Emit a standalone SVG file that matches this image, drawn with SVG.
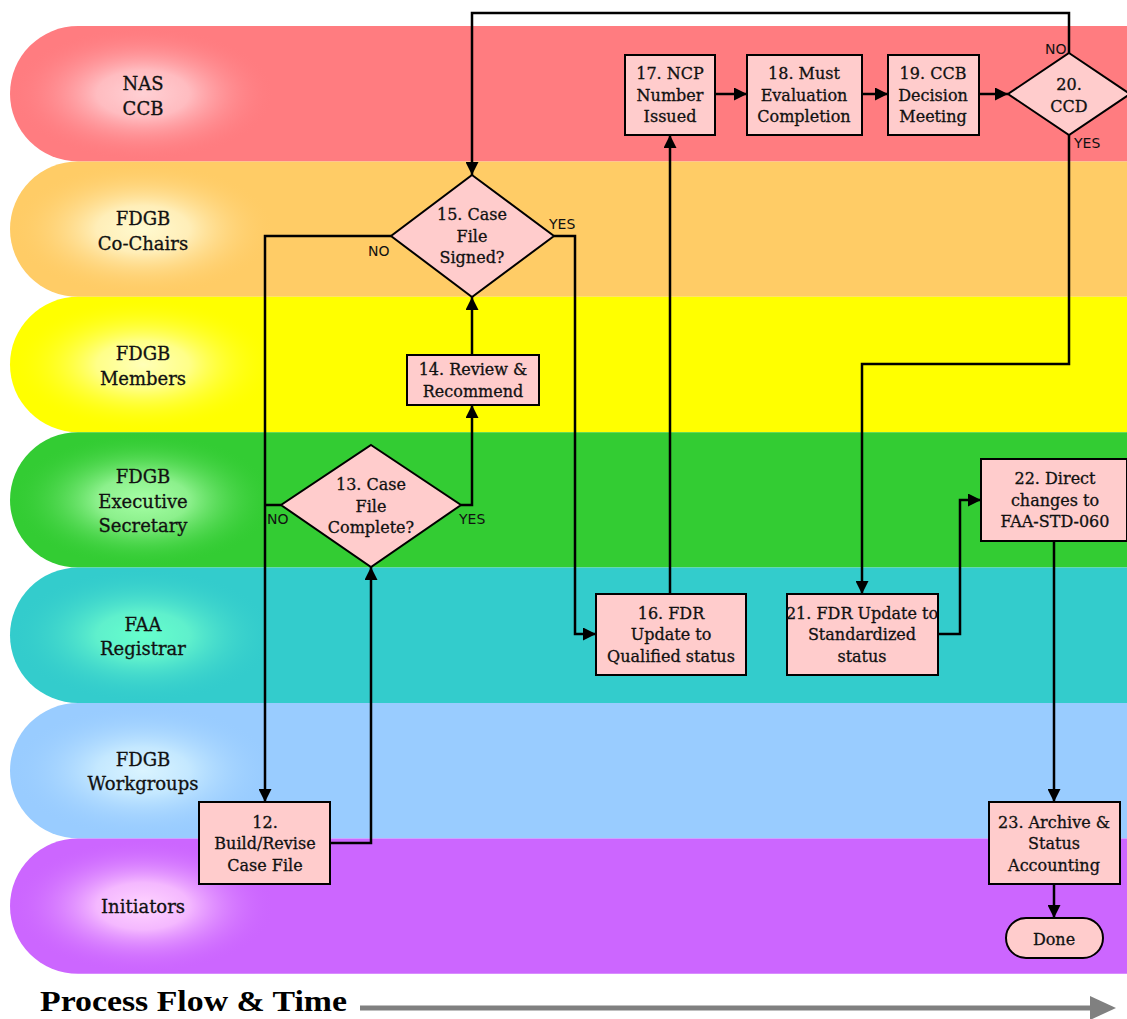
<svg xmlns="http://www.w3.org/2000/svg" width="1127" height="1019" viewBox="0 0 1127 1019">
<style>
.lane-label{font-family:"DejaVu Serif","Liberation Serif",serif;font-size:18px;fill:#111;stroke:#111;stroke-width:0.3;text-anchor:middle}
.node rect,.node polygon,.node path{fill:#ffcccc;stroke:#000;stroke-width:2}
.node text{font-family:"DejaVu Serif","Liberation Serif",serif;font-size:16px;fill:#111;stroke:#111;stroke-width:0.3;text-anchor:middle}
.conn path{fill:none;stroke:#000;stroke-width:2.5}
.lbl{font-family:"DejaVu Sans","Liberation Sans",sans-serif;font-size:14px;fill:#111}
</style>
<defs>
<marker id="arr" viewBox="0 0 10 10" refX="10" refY="5" markerWidth="13" markerHeight="13" markerUnits="userSpaceOnUse" orient="auto">
<path d="M0,0 L10,5 L0,10 z" fill="#000"/>
</marker>
<radialGradient id="g1"><stop offset="0" stop-color="#ffd0d4"/><stop offset="0.35" stop-color="#ffbcc0"/><stop offset="1" stop-color="#ff7c80" stop-opacity="0"/></radialGradient>
<radialGradient id="g2"><stop offset="0" stop-color="#fffad0"/><stop offset="0.35" stop-color="#ffeeb8"/><stop offset="1" stop-color="#ffcc66" stop-opacity="0"/></radialGradient>
<radialGradient id="g3"><stop offset="0" stop-color="#ffffb8"/><stop offset="0.35" stop-color="#ffff88"/><stop offset="1" stop-color="#ffff00" stop-opacity="0"/></radialGradient>
<radialGradient id="g4"><stop offset="0" stop-color="#a6ffa6"/><stop offset="0.35" stop-color="#8cf08c"/><stop offset="1" stop-color="#33cc33" stop-opacity="0"/></radialGradient>
<radialGradient id="g5"><stop offset="0" stop-color="#66ffcc"/><stop offset="0.35" stop-color="#5ff0cc"/><stop offset="1" stop-color="#33cccc" stop-opacity="0"/></radialGradient>
<radialGradient id="g6"><stop offset="0" stop-color="#daf4ff"/><stop offset="0.35" stop-color="#c4e8ff"/><stop offset="1" stop-color="#99ccff" stop-opacity="0"/></radialGradient>
<radialGradient id="g7"><stop offset="0" stop-color="#ffd4ff"/><stop offset="0.35" stop-color="#f4b8ff"/><stop offset="1" stop-color="#cc66ff" stop-opacity="0"/></radialGradient>
</defs>
<rect width="1127" height="1019" fill="#fff"/>
<g id="lanes">
<g id="lane-nas">
<rect x="10" y="26" width="1200" height="135.4" rx="68" ry="67.7" fill="#ff7c80"/>
<ellipse cx="143" cy="93.7" rx="132" ry="67" fill="url(#g1)"/>
<text class="lane-label" x="143" y="90">NAS</text>
<text class="lane-label" x="143" y="115">CCB</text>
</g>
<g id="lane-cochairs">
<rect x="10" y="161.4" width="1200" height="135.4" rx="68" ry="67.7" fill="#ffcc66"/>
<ellipse cx="143" cy="229.1" rx="132" ry="67" fill="url(#g2)"/>
<text class="lane-label" x="143" y="225">FDGB</text>
<text class="lane-label" x="143" y="250">Co-Chairs</text>
</g>
<g id="lane-members">
<rect x="10" y="296.8" width="1200" height="135.4" rx="68" ry="67.7" fill="#ffff00"/>
<ellipse cx="143" cy="364.5" rx="132" ry="67" fill="url(#g3)"/>
<text class="lane-label" x="143" y="360">FDGB</text>
<text class="lane-label" x="143" y="385">Members</text>
</g>
<g id="lane-exec">
<rect x="10" y="432.2" width="1200" height="135.4" rx="68" ry="67.7" fill="#33cc33"/>
<ellipse cx="143" cy="499.9" rx="132" ry="67" fill="url(#g4)"/>
<text class="lane-label" x="143" y="483">FDGB</text>
<text class="lane-label" x="143" y="508">Executive</text>
<text class="lane-label" x="143" y="532">Secretary</text>
</g>
<g id="lane-faa">
<rect x="10" y="567.6" width="1200" height="135.4" rx="68" ry="67.7" fill="#33cccc"/>
<ellipse cx="143" cy="635.3" rx="132" ry="67" fill="url(#g5)"/>
<text class="lane-label" x="143" y="631">FAA</text>
<text class="lane-label" x="143" y="655">Registrar</text>
</g>
<g id="lane-workgroups">
<rect x="10" y="703" width="1200" height="135.4" rx="68" ry="67.7" fill="#99ccff"/>
<ellipse cx="143" cy="770.7" rx="132" ry="67" fill="url(#g6)"/>
<text class="lane-label" x="143" y="766">FDGB</text>
<text class="lane-label" x="143" y="790">Workgroups</text>
</g>
<g id="lane-initiators">
<rect x="10" y="838.4" width="1200" height="135.4" rx="68" ry="67.7" fill="#cc66ff"/>
<ellipse cx="143" cy="906.1" rx="132" ry="67" fill="url(#g7)"/>
<text class="lane-label" x="143" y="913">Initiators</text>
</g>
</g>
<g id="connectors" class="conn">
<path d="M330,843 H371 V567" marker-end="url(#arr)"/>
<path d="M461,505 H472 V405" marker-end="url(#arr)"/>
<path d="M472,355 V297" marker-end="url(#arr)"/>
<path d="M391,236 H265 V802" marker-end="url(#arr)"/>
<path d="M281,505 H265"/>
<path d="M554,236 H575 V634 H596" marker-end="url(#arr)"/>
<path d="M670,594 V135" marker-end="url(#arr)"/>
<path d="M715,94 H747" marker-end="url(#arr)"/>
<path d="M862,94 H888" marker-end="url(#arr)"/>
<path d="M979,94 H1008" marker-end="url(#arr)"/>
<path d="M1069,53 V13 H472 V175" marker-end="url(#arr)"/>
<path d="M1069,135 V364 H862 V594" marker-end="url(#arr)"/>
<path d="M938,634 H960 V500 H981" marker-end="url(#arr)"/>
<path d="M1054,541 V802" marker-end="url(#arr)"/>
<path d="M1054,884 V918" marker-end="url(#arr)"/>
<text class="lbl" x="368" y="256">NO</text>
<text class="lbl" x="549" y="229">YES</text>
<text class="lbl" x="267" y="524">NO</text>
<text class="lbl" x="459" y="524">YES</text>
<text class="lbl" x="1045" y="54">NO</text>
<text class="lbl" x="1074" y="148">YES</text>
</g>
<g id="n12" class="node">
<rect x="199" y="802" width="131" height="82"/>
<text x="265" y="828">12.</text>
<text x="265" y="849">Build/Revise</text>
<text x="265" y="871">Case File</text>
</g>
<g id="n13" class="node">
<polygon points="371,445 461,505 371,567 281,505"/>
<text x="371" y="490">13. Case</text>
<text x="371" y="512">File</text>
<text x="371" y="533">Complete?</text>
</g>
<g id="n14" class="node">
<rect x="407" y="355" width="132" height="50"/>
<text x="473" y="375">14. Review &amp;</text>
<text x="473" y="397">Recommend</text>
</g>
<g id="n15" class="node">
<polygon points="472,175 554,236 472,297 391,236"/>
<text x="472" y="220">15. Case</text>
<text x="472" y="242">File</text>
<text x="472" y="263">Signed?</text>
</g>
<g id="n16" class="node">
<rect x="596" y="594" width="150" height="81"/>
<text x="671" y="619">16. FDR</text>
<text x="671" y="640">Update to</text>
<text x="671" y="662">Qualified status</text>
</g>
<g id="n17" class="node">
<rect x="625" y="55" width="90" height="80"/>
<text x="670" y="79">17. NCP</text>
<text x="670" y="101">Number</text>
<text x="670" y="122">Issued</text>
</g>
<g id="n18" class="node">
<rect x="747" y="55" width="115" height="80"/>
<text x="804" y="79">18. Must</text>
<text x="804" y="101">Evaluation</text>
<text x="804" y="122">Completion</text>
</g>
<g id="n19" class="node">
<rect x="888" y="55" width="91" height="80"/>
<text x="933" y="79">19. CCB</text>
<text x="933" y="101">Decision</text>
<text x="933" y="122">Meeting</text>
</g>
<g id="n20" class="node">
<polygon points="1069,53 1130,94 1069,135 1008,94"/>
<text x="1069" y="90">20.</text>
<text x="1069" y="112">CCD</text>
</g>
<g id="n21" class="node">
<rect x="787" y="594" width="151" height="81"/>
<text x="862" y="619">21. FDR Update to</text>
<text x="862" y="640">Standardized</text>
<text x="862" y="662">status</text>
</g>
<g id="n22" class="node">
<rect x="981" y="459" width="146" height="82"/>
<text x="1055" y="484">22. Direct</text>
<text x="1055" y="506">changes to</text>
<text x="1055" y="527">FAA-STD-060</text>
</g>
<g id="n23" class="node">
<rect x="989" y="802" width="131" height="82"/>
<text x="1054" y="828">23. Archive &amp;</text>
<text x="1054" y="849">Status</text>
<text x="1054" y="871">Accounting</text>
</g>
<g id="done" class="node">
<rect x="1006" y="918" width="97" height="40" rx="20" ry="20"/>
<text x="1054" y="945">Done</text>
</g>
<g id="timeline">
<text x="40" y="1011" font-family="'Liberation Serif',serif" font-weight="bold" font-size="30" fill="#000" textLength="307" lengthAdjust="spacingAndGlyphs">Process Flow &amp; Time</text>
<line x1="360" y1="1008" x2="1092" y2="1008" stroke="#808080" stroke-width="5"/>
<polygon points="1090,996 1116,1008 1090,1020" fill="#808080"/>
</g>
</svg>
